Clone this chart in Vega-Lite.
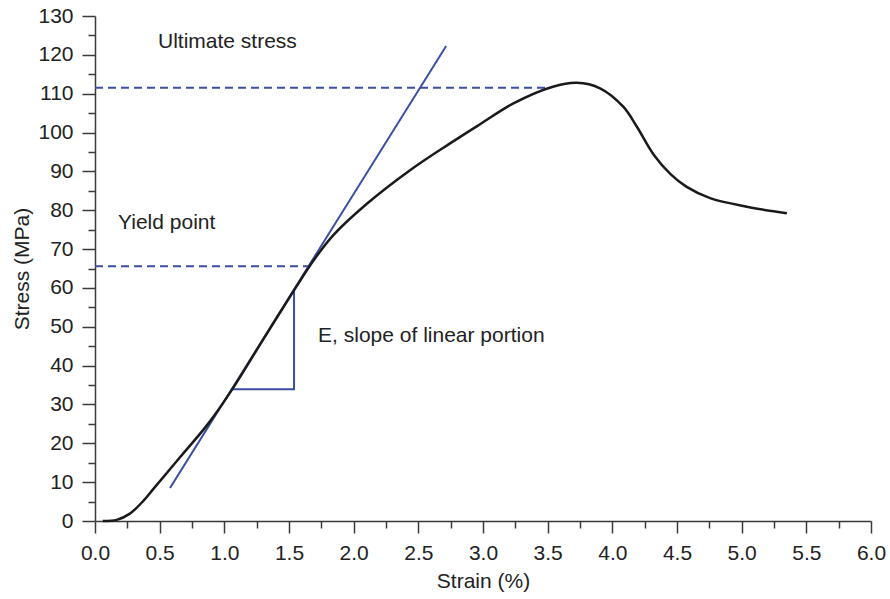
{
  "$schema": "https://vega.github.io/schema/vega-lite/v6.json",
  "width": 776,
  "height": 505,
  "autosize": {"type": "none"},
  "padding": {"left": 95, "top": 16, "right": 19, "bottom": 78},
  "background": "white",
  "config": {
    "view": {"stroke": null},
    "font": "Liberation Sans",
    "axis": {
      "labelFont": "Liberation Sans",
      "titleFont": "Liberation Sans",
      "labelFontSize": 21,
      "titleFontSize": 21,
      "titleFontWeight": "normal",
      "labelColor": "#222222",
      "titleColor": "#222222",
      "tickColor": "#3a3a3a",
      "domainColor": "#3a3a3a",
      "tickWidth": 1.5,
      "domainWidth": 1.5,
      "grid": false,
      "labelOverlap": false,
      "labelFlush": false
    }
  },
  "resolve": {"axis": {"x": "independent", "y": "independent"}},
  "layer": [
    {
      "data": {"values": [
        {"seg": "tangent", "x": 0.58, "y": 8.5, "o": 1},
        {"seg": "tangent", "x": 2.715, "y": 122.3, "o": 2},
        {"seg": "triangle", "x": 1.052, "y": 33.9, "o": 1},
        {"seg": "triangle", "x": 1.539, "y": 33.9, "o": 2},
        {"seg": "triangle", "x": 1.539, "y": 59.5, "o": 3}
      ]},
      "mark": {"type": "line", "color": "#3a4ea3", "strokeWidth": 2},
      "encoding": {
        "x": {"field": "x", "type": "quantitative", "scale": {"domain": [0, 6], "nice": false, "zero": false}, "axis": null},
        "y": {"field": "y", "type": "quantitative", "scale": {"domain": [0, 130], "nice": false}, "axis": null},
        "detail": {"field": "seg"},
        "order": {"field": "o"}
      }
    },
    {
      "data": {"values": [
        {"seg": "ultimate", "x": 0, "y": 111.5},
        {"seg": "ultimate", "x": 3.5, "y": 111.5},
        {"seg": "yield", "x": 0, "y": 65.6},
        {"seg": "yield", "x": 1.66, "y": 65.6}
      ]},
      "mark": {"type": "line", "color": "#3a4ea3", "strokeWidth": 2, "strokeDash": [8, 5]},
      "encoding": {
        "x": {"field": "x", "type": "quantitative", "scale": {"domain": [0, 6], "nice": false, "zero": false},
          "axis": {"orient": "bottom", "values": [0.25, 0.75, 1.25, 1.75, 2.25, 2.75, 3.25, 3.75, 4.25, 4.75, 5.25, 5.75], "labels": false, "domain": false, "tickSize": 7, "title": null}},
        "y": {"field": "y", "type": "quantitative", "scale": {"domain": [0, 130], "nice": false},
          "axis": {"orient": "left", "values": [5, 15, 25, 35, 45, 55, 65, 75, 85, 95, 105, 115, 125], "labels": false, "domain": false, "tickSize": 7, "title": null}},
        "detail": {"field": "seg"}
      }
    },
    {
      "data": {"values": [
        {"x": 0.06, "y": 0},
        {"x": 0.168, "y": 0.3},
        {"x": 0.27, "y": 1.9},
        {"x": 0.374, "y": 5.2},
        {"x": 0.45, "y": 8.2},
        {"x": 0.657, "y": 16.4},
        {"x": 0.874, "y": 25.0},
        {"x": 1.057, "y": 33.7},
        {"x": 1.3, "y": 46.7},
        {"x": 1.547, "y": 59.8},
        {"x": 1.688, "y": 67.0},
        {"x": 1.843, "y": 73.6},
        {"x": 2.1, "y": 81.6},
        {"x": 2.436, "y": 90.3},
        {"x": 2.745, "y": 97.2},
        {"x": 2.98, "y": 102.2},
        {"x": 3.235, "y": 107.5},
        {"x": 3.54, "y": 111.8},
        {"x": 3.725, "y": 112.8},
        {"x": 3.905, "y": 111.4},
        {"x": 4.086, "y": 106.6},
        {"x": 4.19, "y": 101.5},
        {"x": 4.32, "y": 94.3},
        {"x": 4.45, "y": 89.3},
        {"x": 4.575, "y": 86.0},
        {"x": 4.756, "y": 83.1},
        {"x": 5.04, "y": 80.9},
        {"x": 5.35, "y": 79.2}
      ]},
      "mark": {"type": "line", "color": "#1a1a1a", "strokeWidth": 2.5, "interpolate": "catmull-rom"},
      "encoding": {
        "x": {"field": "x", "type": "quantitative", "scale": {"domain": [0, 6], "nice": false, "zero": false},
          "axis": {"orient": "bottom", "values": [0, 0.5, 1, 1.5, 2, 2.5, 3, 3.5, 4, 4.5, 5, 5.5, 6], "format": ".1f", "tickSize": 12, "labelPadding": 9, "title": "Strain (%)", "titlePadding": 7}},
        "y": {"field": "y", "type": "quantitative", "scale": {"domain": [0, 130], "nice": false},
          "axis": {"orient": "left", "values": [0, 10, 20, 30, 40, 50, 60, 70, 80, 90, 100, 110, 120, 130], "tickSize": 13, "labelPadding": 9, "title": "Stress (MPa)", "titlePadding": 5}}
      }
    },
    {
      "data": {"values": [
        {"x": 0.487, "y": 123.3, "label": "Ultimate stress"},
        {"x": 0.178, "y": 76.7, "label": "Yield point"},
        {"x": 1.725, "y": 47.6, "label": "E, slope of linear portion"}
      ]},
      "mark": {"type": "text", "align": "left", "baseline": "middle", "fontSize": 21, "font": "Liberation Sans", "color": "#222222"},
      "encoding": {
        "x": {"field": "x", "type": "quantitative", "scale": {"domain": [0, 6], "nice": false, "zero": false}, "axis": null},
        "y": {"field": "y", "type": "quantitative", "scale": {"domain": [0, 130], "nice": false}, "axis": null},
        "text": {"field": "label"}
      }
    }
  ]
}
